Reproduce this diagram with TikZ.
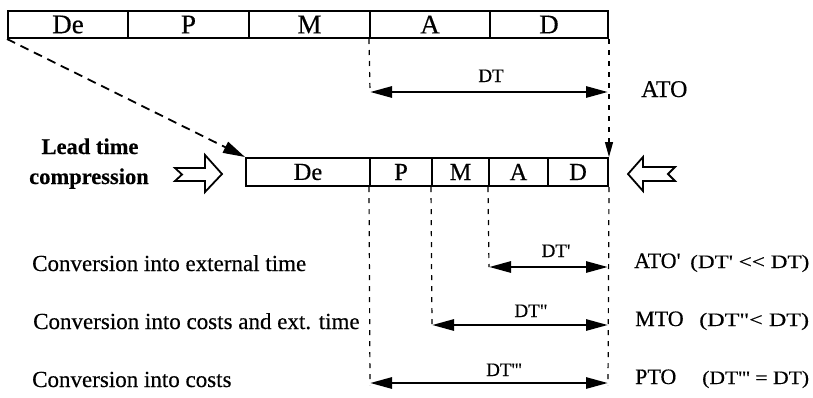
\documentclass[tikz,border=0pt]{standalone}
\usepackage{fontspec}
\setmainfont[Ligatures=TeXOff, FakeBold=0.4]{Liberation Serif}
\usepackage{graphicx}
\usetikzlibrary{arrows.meta}

% widened small print for the bracketed comparisons
\newcommand\hwide[2]{\scalebox{#1}[1]{#2}}

\tikzset{
  seg/.style={draw, line width=2pt, rectangle, inner sep=0pt},
  topseg/.style={seg, minimum height=27pt, font=\fontsize{27}{27}\selectfont},
  botseg/.style={seg, minimum height=28pt, font=\fontsize{24.5}{24}\selectfont},
  guide/.style={line width=1.2pt, dash pattern=on 5pt off 6pt},
  span/.style={line width=2.8pt,
    {Triangle[length=22pt,width=11pt]}-{Triangle[length=22pt,width=11pt]}},
  txt/.style={inner sep=0pt, anchor=base west},
  conv/.style={txt, font=\fontsize{23}{23}\selectfont},
  order/.style={txt, font=\fontsize{22}{22}\selectfont},
  cmp/.style={txt, font=\fontsize{19}{19}\selectfont},
  dtlbl/.style={inner sep=0pt, anchor=base, font=\fontsize{19}{19}\selectfont},
  hollow/.style={line width=1.8pt, fill=white, line join=miter},
  leadtxt/.style={inner sep=0pt, anchor=base, font=\fontsize{22.5}{22}\selectfont\bfseries},
}

\begin{document}
\begin{tikzpicture}[x=1pt, y=-1pt]
\useasboundingbox (0,0) rectangle (813,397);

% original lead time bar
\node[topseg, minimum width=120pt] (tDe) at (68,24.5)    {De};
\node[topseg, minimum width=121pt] (tP)  at (188.5,24.5) {P};
\node[topseg, minimum width=121pt] (tM)  at (309.5,24.5) {M};
\node[topseg, minimum width=120pt] (tA)  at (430,24.5)   {A};
\node[topseg, minimum width=118pt] (tD)  at (549,24.5)   {D};

% compressed bar
\node[botseg, minimum width=124pt] (bDe) at (308,172)   {De};
\node[botseg, minimum width=62pt]  (bP)  at (401,172)   {P};
\node[botseg, minimum width=57pt]  (bM)  at (460.5,172) {M};
\node[botseg, minimum width=59pt]  (bA)  at (518.5,172) {A};
\node[botseg, minimum width=60pt]  (bD)  at (578,172)   {D};

% compression arrows
\draw[line width=1.8pt, dash pattern=on 9pt off 6pt,
  -{Triangle[length=22pt,width=12pt]}] (tDe.south west) -- (bDe.north west);
\draw[guide, -{Triangle[length=15pt,width=8pt]}] (tD.south east) -- (bD.north east);

% delivery time of the original bar
\coordinate (dtL) at (370,92);
\coordinate (dtR) at (608,92);
\draw[guide] (tA.south west) -- (dtL);
\draw[span] (dtL) -- (dtR);
\node[dtlbl] (dt) at (491,82) {DT};
\node[txt, font=\fontsize{24}{24}\selectfont] (ato) at (641,97) {ATO};

% hollow arrows on both sides
\draw[hollow] (175,168) -- (205,168) -- (205,155) -- (222,174) -- (205,192)
  -- (205,181) -- (175,181) -- (182,174.5) -- cycle;
\draw[hollow] (628,174) -- (643,157) -- (643,167) -- (675,167) -- (668,174)
  -- (675,181) -- (643,181) -- (643,191) -- cycle;

\node[leadtxt] (lead1) at (90,154) {Lead time};
\node[leadtxt] (lead2) at (89,184) {compression};

% new delivery times
\coordinate (aEnd) at (489,267); \coordinate (aR) at (608,267);
\coordinate (mEnd) at (432,325); \coordinate (mR) at (608,325);
\coordinate (pEnd) at (370,385); \coordinate (pL) at (370,383);
\coordinate (pR) at (608,383);   \coordinate (dEnd) at (608,385);

\draw[guide] (bP.south west) -- (pEnd);
\draw[guide] (bM.south west) -- (mEnd);
\draw[guide] (bA.south west) -- (aEnd);
\draw[guide] (bD.south east) -- (dEnd);

\draw[span] (aEnd) -- (aR);
\draw[span] (mEnd) -- (mR);
\draw[span] (pL) -- (pR);

\node[dtlbl] (dt1) at (556,257) {DT'};
\node[dtlbl] (dt2) at (531,317) {DT"};
\node[dtlbl] (dt3) at (504,376) {DT'''};

\node[conv] (c1) at (32,271) {Conversion into external time};
\node[conv] (c2) at (33,329) {Conversion into costs and ext. time};
\node[conv] (c3) at (32,387) {Conversion into costs};

\node[order] (ato1) at (634,268) {ATO'};
\node[cmp] (ato1c) at (690,268) {\hwide{1.22}{(DT' << DT)}};
\node[order] (mto) at (635,326) {MTO};
\node[cmp] (mtoc) at (699,326) {\hwide{1.27}{(DT"< DT)}};
\node[order] (pto) at (635,384) {PTO};
\node[cmp] (ptoc) at (702,384) {\hwide{1.14}{(DT''' = DT)}};
\end{tikzpicture}
\end{document}
